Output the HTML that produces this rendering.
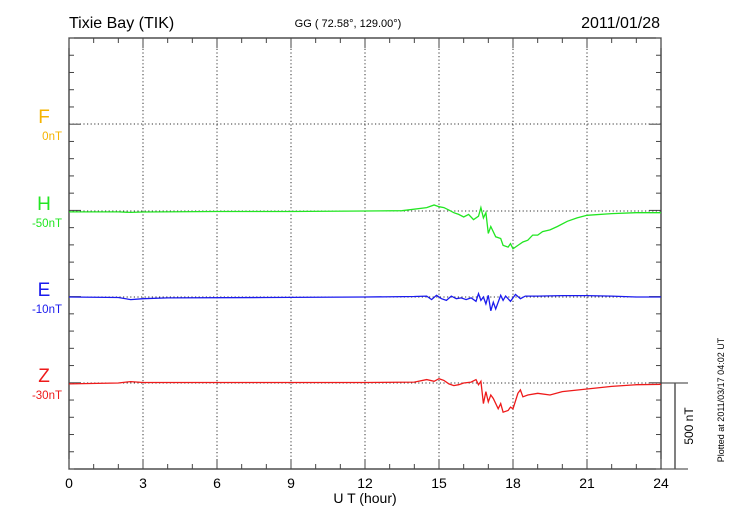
<!DOCTYPE html>
<html><head><meta charset="utf-8"><style>
body{margin:0;background:#fff;}
svg{display:block;font-family:"Liberation Sans",sans-serif;}
</style></head><body>
<svg id="c" width="730" height="520"></svg>
<script>
const hT=[0,2,2.5,3,6,9,12,13.5,14.5,14.8,15.0,15.2,15.4,15.6,15.8,16.0,16.2,16.4,16.6,16.7,16.8,16.9,17.0,17.1,17.3,17.5,17.6,17.8,17.9,18.0,18.2,18.4,18.6,18.8,19.0,19.2,19.5,19.8,20.2,20.6,21,22,23,24];
const hV=[-5,-5,-8,-6,-3,-3,0,2,20,35,25,20,5,-10,-20,-35,-20,-50,-30,20,-40,-10,-130,-90,-150,-160,-200,-210,-190,-220,-200,-180,-170,-140,-140,-120,-110,-90,-60,-40,-25,-15,-10,-10];
const eT=[0,2,2.5,3,4,8,12,14,14.5,14.7,14.9,15.1,15.3,15.5,15.7,15.9,16.1,16.3,16.5,16.6,16.7,16.8,16.9,17.0,17.1,17.2,17.3,17.5,17.6,17.7,17.9,18.1,18.3,18.5,19,20,21,22,23,24];
const eV=[0,-3,-15,-10,-5,-3,0,3,5,-15,10,-10,-20,5,-10,-5,-15,-5,-25,20,-20,0,-40,10,-80,-30,-70,10,-20,5,-25,15,-10,5,5,8,8,5,0,0];
const zT=[0,2,2.5,3,6,9,12,14,14.5,14.8,15.0,15.2,15.4,15.6,15.8,16.0,16.3,16.5,16.6,16.7,16.8,16.9,17.0,17.1,17.2,17.4,17.5,17.6,17.8,17.9,18.0,18.2,18.3,18.4,18.6,19,19.5,20,21,22,23,24];
const zV=[-5,0,8,3,3,3,3,5,20,10,25,15,-5,-15,-10,0,5,20,-10,10,-120,-50,-110,-70,-90,-150,-120,-170,-160,-140,-150,-60,-40,-80,-70,-60,-70,-50,-35,-20,-10,-8];
const xTicks=[0,3,6,9,12,15,18,21,24];

const svg=document.getElementById('c');
const NS='http://www.w3.org/2000/svg';
const X0=69,X1=661,Y0=38,Y1=469;
const x=t=>X0+(X1-X0)*t/24;
const pxPerNT=86/500;
function el(tag,attrs,parent){const e=document.createElementNS(NS,tag);for(const k in attrs)e.setAttribute(k,attrs[k]);(parent||svg).appendChild(e);return e;}
function txt(s,attrs){const e=el('text',attrs);e.textContent=s;return e;}

// grid
for(let i=1;i<8;i++){const l=el('line',{x1:x(xTicks[i]),x2:x(xTicks[i]),y1:Y0,y2:Y1,stroke:'#333','stroke-dasharray':'1.2,2.4','stroke-width':1});

}
const bases=[124,211,297,383];
bases.forEach(b=>{const l=el('line',{x1:X0,x2:X1,y1:b,y2:b,stroke:'#333','stroke-dasharray':'1.2,2.4','stroke-width':1});

});

// axes frame
const fr=el('rect',{x:X0,y:Y0,width:X1-X0,height:Y1-Y0,fill:'none',stroke:'#222','stroke-width':1.2});


// y minor ticks
for(let y=Y0;y<=Y1+0.5;y+=17.24){
 const big=bases.some(b=>Math.abs(b-y)<3);
 const len=big?12:5;
 el('line',{x1:X0,x2:X0+len,y1:y,y2:y,stroke:'#444'});
 el('line',{x1:X1,x2:X1-len,y1:y,y2:y,stroke:'#444'});
}
// x ticks
for(let h=0;h<=24;h++){
 const len=(h%3===0)?10:5;
 el('line',{x1:x(h),x2:x(h),y1:Y1,y2:Y1-len,stroke:'#444'});
 el('line',{x1:x(h),x2:x(h),y1:Y0,y2:Y0+len,stroke:'#444'});
}
xTicks.forEach(h=>{const t=txt(String(h),{x:x(h),y:488,'font-size':14,'text-anchor':'middle',fill:'#000'});

});
const xt=txt('U T (hour)',{x:365,y:503,'font-size':14,'text-anchor':'middle',fill:'#000'});



// series
function series(T,V,base,color,name){
 let d='';T.forEach((t,i)=>{d+=(i?'L':'M')+x(t).toFixed(1)+','+(base-V[i]*pxPerNT).toFixed(1);});
 const p=el('path',{d:d,fill:'none',stroke:color,'stroke-width':1.3});
 
 
}
series(hT,hV,211,'#22e622','h-trace');
series(eT,eV,297,'#1a1aee','e-trace');
series(zT,zV,383,'#ee1a1a','z-trace');

// channel labels
const labs=[['F','0nT',124,'#f5b400'],['H','-50nT',211,'#22e622'],['E','-10nT',297,'#1a1aee'],['Z','-30nT',383,'#ee1a1a']];
labs.forEach(a=>{
 const t1=txt(a[0],{x:44,y:a[2]-1,'font-size':19,'text-anchor':'middle',fill:a[3]});
 
 
 const t2=txt(a[1],{x:62,y:a[2]+16,'font-size':11.5,'text-anchor':'end',fill:a[3]});
 
 
});

// scale bar
el('line',{x1:X1,x2:688,y1:383,y2:383,stroke:'#333'});
el('line',{x1:X1,x2:688,y1:469,y2:469,stroke:'#333'});
const sb=el('line',{x1:675,x2:675,y1:383,y2:469,stroke:'#555','stroke-width':1.5});


const st=txt('500 nT',{x:0,y:0,'font-size':12,'text-anchor':'middle',fill:'#000',transform:'translate(693,426) rotate(-90)'});



// titles
const t1=txt('Tixie Bay (TIK)',{x:69,y:28,'font-size':16,fill:'#000'});


const t2=txt('GG ( 72.58°, 129.00°)',{x:348,y:27,'font-size':11,'text-anchor':'middle',fill:'#000'});


const t3=txt('2011/01/28',{x:660,y:28,'font-size':16,'text-anchor':'end',fill:'#000'});


const t4=txt('Plotted at 2011/03/17 04:02 UT',{x:0,y:0,'font-size':9,'text-anchor':'middle',fill:'#000',transform:'translate(724,400) rotate(-90)'});


</script>
</body></html>
